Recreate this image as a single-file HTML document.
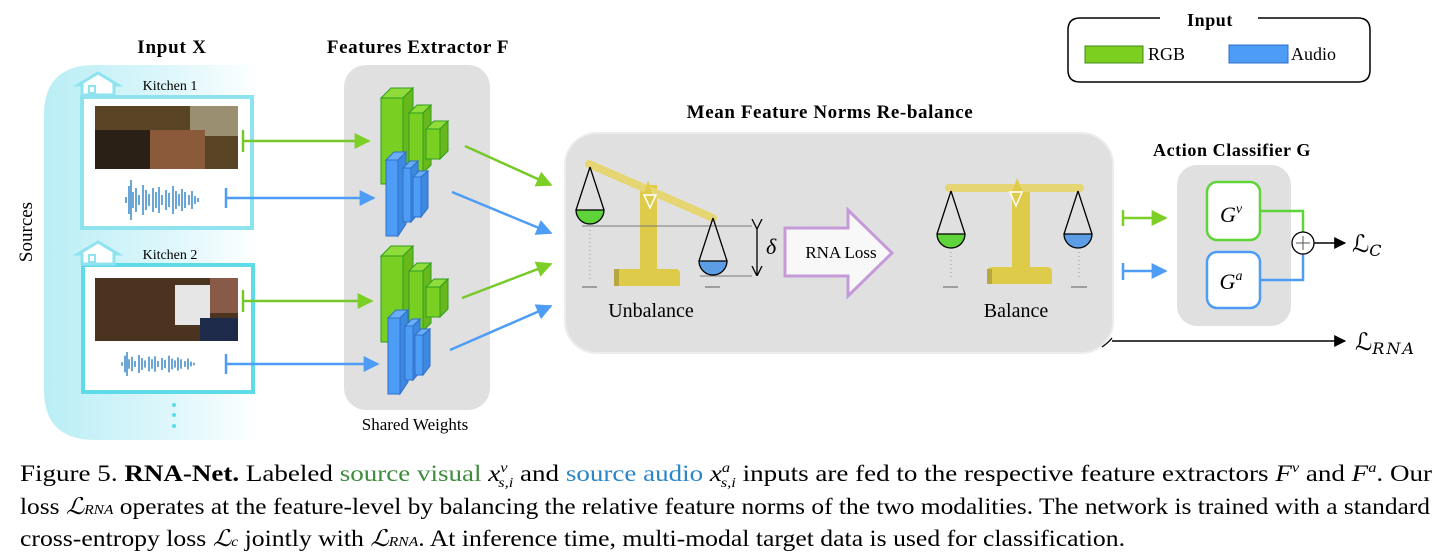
<!DOCTYPE html>
<html><head><meta charset="utf-8"><style>
html,body{margin:0;padding:0;background:#fff;}
svg{display:block;font-family:"Liberation Serif",serif;}
</style></head><body>
<svg width="1437" height="556" viewBox="0 0 1437 556" xmlns="http://www.w3.org/2000/svg">
<defs>
<linearGradient id="cy" x1="0" x2="1" y1="0" y2="0">
<stop offset="0" stop-color="#b9eef5"/><stop offset="0.6" stop-color="#dff7fb"/><stop offset="1" stop-color="#ffffff"/></linearGradient>
<marker id="agB" viewBox="0 0 10 10" markerWidth="18" markerHeight="16" refX="9" refY="5" orient="auto" markerUnits="userSpaceOnUse"><path d="M0,0 L10,5 L0,10z" fill="#7ccf25"/></marker>
<marker id="abB" viewBox="0 0 10 10" markerWidth="18" markerHeight="16" refX="9" refY="5" orient="auto" markerUnits="userSpaceOnUse"><path d="M0,0 L10,5 L0,10z" fill="#4d9df7"/></marker>
<marker id="ak" viewBox="0 0 10 10" markerWidth="14" markerHeight="12" refX="9" refY="5" orient="auto" markerUnits="userSpaceOnUse"><path d="M0,0 L10,5 L0,10z" fill="#000"/></marker>
<marker id="ad" viewBox="0 0 10 10" markerWidth="10" markerHeight="12" refX="9" refY="5" orient="auto" markerUnits="userSpaceOnUse"><path d="M0,0 L10,5 L0,10" fill="none" stroke="#000" stroke-width="1.3"/></marker>
<g id="netG">
<polygon points="0,0 10,-10 32,-10 22,0" fill="#8fdc3a" stroke="#2e9d1e" stroke-width="1"/>
<rect x="0" y="0" width="22" height="86" fill="#79cf22" stroke="#2e9d1e"/>
<polygon points="22,0 32,-10 32,76 22,86" fill="#68b81c" stroke="#2e9d1e"/>
<rect x="28" y="15" width="14" height="60" fill="#79cf22" stroke="#2e9d1e"/>
<polygon points="28,15 36,7 50,7 42,15" fill="#8fdc3a" stroke="#2e9d1e"/>
<polygon points="42,15 50,7 50,67 42,75" fill="#68b81c" stroke="#2e9d1e"/>
<rect x="45" y="31" width="14" height="30" fill="#79cf22" stroke="#2e9d1e"/>
<polygon points="45,31 53,23 67,23 59,31" fill="#8fdc3a" stroke="#2e9d1e"/>
<polygon points="59,31 67,23 67,53 59,61" fill="#68b81c" stroke="#2e9d1e"/>
</g>
<g id="netB">
<rect x="0" y="10" width="12" height="76" fill="#4d9df7" stroke="#2f6fc8"/>
<polygon points="0,10 8,2 20,2 12,10" fill="#6aaef9" stroke="#2f6fc8"/>
<polygon points="12,10 20,2 20,74 12,86" fill="#3e89e0" stroke="#2f6fc8"/>
<rect x="17" y="18" width="8" height="54" fill="#4d9df7" stroke="#2f6fc8"/>
<polygon points="17,18 24,11 32,11 25,18" fill="#6aaef9" stroke="#2f6fc8"/>
<polygon points="25,18 32,11 32,64 25,72" fill="#3e89e0" stroke="#2f6fc8"/>
<rect x="27" y="27" width="8" height="40" fill="#4d9df7" stroke="#2f6fc8"/>
<polygon points="27,27 33,21 42,21 35,27" fill="#6aaef9" stroke="#2f6fc8"/>
<polygon points="35,27 42,21 42,58 35,67" fill="#3e89e0" stroke="#2f6fc8"/>
</g>
<g id="house"><polygon points="0,12 20,0 40,12 36,12 36,22 4,22 4,12" fill="#fff" stroke="#8fe3ee" stroke-width="3"/><rect x="11" y="13" width="6" height="7" fill="none" stroke="#8fe3ee" stroke-width="2"/></g>
<g id="wave" stroke="#2a7fc4" stroke-width="1.4">
<path d="M4,-3v6 M7,-14v28 M9,-20v40 M11,-8v16 M14,-12v24 M17,-5v10 M21,-15v30 M24,-10v20 M27,-6v12 M31,-12v24 M34,-8v16 M37,-13v26 M40,-5v10 M44,-10v20 M47,-7v14 M51,-14v28 M54,-9v18 M57,-6v12 M60,-11v22 M63,-8v16 M67,-5v10 M70,-9v18 M73,-4v8 M76,-2v4"/>
</g>
</defs>

<path d="M95,65 H260 V440 H95 Q44,440 44,390 V115 Q44,65 95,65z" fill="url(#cy)"/>
<text x="32" y="232" font-size="19" transform="rotate(-90 32 232)" text-anchor="middle">Sources</text>
<text x="172" y="53" font-size="19" font-weight="bold" text-anchor="middle" letter-spacing="0.8">Input X</text>

<rect x="82" y="97" width="170" height="131" fill="#fff" stroke="#8fe3ee" stroke-width="4"/>
<use href="#house" x="78" y="73"/>
<text x="170" y="90" font-size="14" text-anchor="middle">Kitchen 1</text>
<rect x="95" y="106" width="143" height="63" fill="#5a4426"/>
<rect x="95" y="130" width="60" height="39" fill="#2a2016"/>
<rect x="190" y="106" width="48" height="30" fill="#9a8f70"/>
<rect x="150" y="130" width="55" height="39" fill="#8a5a3a"/>
<use href="#wave" x="122" y="200"/>
<line x1="226" y1="188" x2="226" y2="208" stroke="#4d9df7" stroke-width="2.5"/>
<line x1="243" y1="130" x2="243" y2="152" stroke="#76c928" stroke-width="2.5"/>

<rect x="83" y="265" width="170" height="127" fill="#fff" stroke="#5ddbe8" stroke-width="4"/>
<use href="#house" x="78" y="242"/>
<text x="170" y="259" font-size="14" text-anchor="middle">Kitchen 2</text>
<rect x="95" y="278" width="143" height="63" fill="#4a3420"/>
<rect x="175" y="285" width="35" height="40" fill="#e6e6e6"/>
<rect x="210" y="278" width="28" height="35" fill="#8a5a48"/>
<rect x="200" y="318" width="38" height="23" fill="#1d2a4a"/>
<g transform="translate(118,364) scale(1,0.6)"><use href="#wave"/></g>
<line x1="226" y1="354" x2="226" y2="374" stroke="#4d9df7" stroke-width="2.5"/>
<line x1="243" y1="290" x2="243" y2="312" stroke="#76c928" stroke-width="2.5"/>
<circle cx="174" cy="405" r="2" fill="#5ddbe8"/><circle cx="174" cy="415" r="2" fill="#5ddbe8"/><circle cx="174" cy="426" r="2" fill="#5ddbe8"/>

<text x="418" y="53" font-size="19" font-weight="bold" text-anchor="middle" letter-spacing="0.6">Features Extractor F</text>
<rect x="344" y="65" width="146" height="345" rx="22" fill="#e0e0e0"/>
<text x="415" y="430" font-size="17" text-anchor="middle">Shared Weights</text>
<use href="#netG" x="381" y="98"/>
<use href="#netB" x="386" y="150"/>
<use href="#netG" x="381" y="256"/>
<use href="#netB" x="388" y="308"/>

<line x1="243" y1="141" x2="369" y2="141" stroke="#76c928" stroke-width="2.5" marker-end="url(#agB)"/>
<line x1="226" y1="198" x2="374" y2="198" stroke="#4d9df7" stroke-width="2.5" marker-end="url(#abB)"/>
<line x1="243" y1="301" x2="372" y2="301" stroke="#76c928" stroke-width="2.5" marker-end="url(#agB)"/>
<line x1="226" y1="364" x2="378" y2="364" stroke="#4d9df7" stroke-width="2.5" marker-end="url(#abB)"/>
<line x1="465" y1="146" x2="551" y2="185" stroke="#76c928" stroke-width="2.5" marker-end="url(#agB)"/>
<line x1="452" y1="192" x2="551" y2="233" stroke="#4d9df7" stroke-width="2.5" marker-end="url(#abB)"/>
<line x1="462" y1="298" x2="551" y2="264" stroke="#76c928" stroke-width="2.5" marker-end="url(#agB)"/>
<line x1="450" y1="350" x2="551" y2="306" stroke="#4d9df7" stroke-width="2.5" marker-end="url(#abB)"/>

<text x="830" y="118" font-size="19" font-weight="bold" text-anchor="middle" letter-spacing="0.6">Mean Feature Norms Re-balance</text>
<rect x="565" y="133" width="548" height="220" rx="32" fill="#e0e0e0" stroke="#ececec" stroke-width="2"/>

<rect x="640" y="185" width="17" height="88" fill="#dfcb4a"/>
<path d="M614,286 V274 Q614,269 620,269 H676 Q680,269 680,274 V286z" fill="#dfcb4a"/>
<rect x="614" y="269" width="5" height="17" fill="#b8a640"/>
<line x1="589" y1="164" x2="713" y2="218" stroke="#e6d673" stroke-width="8" stroke-linecap="round"/>
<polygon points="648,180 643,197 653,197" fill="#dfcb4a"/>
<polygon points="644,195 656,195 650,208" fill="none" stroke="#fff" stroke-width="1.5"/>
<line x1="582" y1="226" x2="752" y2="226" stroke="#777" stroke-width="1"/>
<line x1="700" y1="276" x2="752" y2="276" stroke="#777" stroke-width="1"/>
<line x1="757" y1="228" x2="757" y2="275" stroke="#000" stroke-width="1.3" marker-end="url(#ad)" marker-start="url(#ad)"/>
<text x="766" y="254" font-size="22" font-style="italic">δ</text>
<g stroke="#000" stroke-width="1.3">
<path d="M590,167 L576,210 M590,167 L604,210" fill="none"/>
<path d="M576,210 A14,14 0 0 0 604,210z" fill="#5fd33a"/>
<path d="M713,218 L699,261 M713,218 L727,261" fill="none"/>
<path d="M699,261 A14,14 0 0 0 727,261z" fill="#5c9ee6"/>
</g>
<line x1="590" y1="230" x2="590" y2="280" stroke="#999" stroke-dasharray="1,3"/>
<line x1="582" y1="287" x2="597" y2="287" stroke="#888" stroke-width="1.5"/>
<line x1="705" y1="287" x2="720" y2="287" stroke="#888" stroke-width="1.5"/>
<text x="651" y="317" font-size="20" text-anchor="middle">Unbalance</text>

<polygon points="785,228 848,228 848,210 892,253 848,296 848,276 785,276" fill="#f8f8f8" stroke="#c49bd8" stroke-width="3"/>
<text x="841" y="258" font-size="17" text-anchor="middle">RNA Loss</text>

<rect x="1012" y="190" width="18" height="80" fill="#dfcb4a"/>
<path d="M987,284 V272 Q987,267 993,267 H1047 Q1052,267 1052,272 V284z" fill="#dfcb4a"/>
<rect x="987" y="269" width="5" height="15" fill="#b8a640"/>
<line x1="949" y1="188" x2="1080" y2="188" stroke="#e6d673" stroke-width="8" stroke-linecap="round"/>
<polygon points="1017,178 1012,192 1023,192" fill="#dfcb4a"/>
<polygon points="1010,192 1022,192 1016,206" fill="none" stroke="#fff" stroke-width="1.5"/>
<g stroke="#000" stroke-width="1.3">
<path d="M951,191 L937,234 M951,191 L965,234" fill="none"/>
<path d="M937,234 A14,14 0 0 0 965,234z" fill="#5fd33a"/>
<path d="M1078,191 L1064,234 M1078,191 L1092,234" fill="none"/>
<path d="M1064,234 A14,14 0 0 0 1092,234z" fill="#5c9ee6"/>
</g>
<line x1="951" y1="252" x2="951" y2="280" stroke="#999" stroke-dasharray="1,3"/>
<line x1="1079" y1="252" x2="1079" y2="280" stroke="#999" stroke-dasharray="1,3"/>
<line x1="943" y1="287" x2="958" y2="287" stroke="#888" stroke-width="1.5"/>
<line x1="1071" y1="287" x2="1087" y2="287" stroke="#888" stroke-width="1.5"/>
<text x="1016" y="317" font-size="20" text-anchor="middle">Balance</text>

<path d="M1160,18 H1080 Q1068,18 1068,30 V70 Q1068,82 1080,82 H1358 Q1370,82 1370,70 V30 Q1370,18 1358,18 H1258" fill="none" stroke="#000" stroke-width="1.5"/>
<text x="1210" y="26" font-size="18" font-weight="bold" text-anchor="middle" letter-spacing="0.6">Input</text>
<rect x="1085" y="46" width="58" height="17" fill="#7ccf1e" stroke="#3f8a1a"/>
<text x="1148" y="60" font-size="18">RGB</text>
<rect x="1229" y="45" width="59" height="18" fill="#4d9df7" stroke="#2f6fc8"/>
<text x="1291" y="60" font-size="18">Audio</text>

<text x="1232" y="156" font-size="18" font-weight="bold" text-anchor="middle" letter-spacing="0.6">Action Classifier G</text>
<rect x="1177" y="165" width="114" height="161" rx="20" fill="#e0e0e0"/>
<line x1="1123" y1="210" x2="1123" y2="226" stroke="#7ccf25" stroke-width="2.5"/>
<line x1="1123" y1="218" x2="1166" y2="218" stroke="#7ccf25" stroke-width="2.5" marker-end="url(#agB)"/>
<line x1="1123" y1="263" x2="1123" y2="280" stroke="#4d9df7" stroke-width="2.5"/>
<line x1="1123" y1="271" x2="1166" y2="271" stroke="#4d9df7" stroke-width="2.5" marker-end="url(#abB)"/>
<rect x="1207" y="182" width="53" height="58" rx="10" fill="#fff" stroke="#5fd33a" stroke-width="2.5"/>
<rect x="1207" y="252" width="53" height="56" rx="10" fill="#fff" stroke="#4d9df7" stroke-width="2.5"/>
<text x="1231" y="222" font-size="22" font-style="italic" text-anchor="middle">G<tspan font-size="14" dy="-9">v</tspan></text>
<text x="1231" y="289" font-size="22" font-style="italic" text-anchor="middle">G<tspan font-size="14" dy="-9">a</tspan></text>
<polyline points="1260,211 1303,211 1303,232" fill="none" stroke="#5fd33a" stroke-width="2.5"/>
<polyline points="1260,280 1303,280 1303,254" fill="none" stroke="#4d9df7" stroke-width="2.5"/>
<circle cx="1303" cy="243" r="11" fill="#fff" stroke="#000" stroke-width="1.3"/>
<path d="M1296,243 H1310 M1303,236 V250" stroke="#555" stroke-width="1"/>
<line x1="1314" y1="243" x2="1345" y2="243" stroke="#000" stroke-width="1.5" marker-end="url(#ak)"/>
<text x="1352" y="252" font-size="24" font-family="'DejaVu Serif',serif">ℒ<tspan font-size="16" font-style="italic" dy="4">C</tspan></text>
<path d="M1102,347 Q1108,343 1112,338" fill="none" stroke="#000" stroke-width="1.3"/>
<line x1="1112" y1="341" x2="1345" y2="341" stroke="#000" stroke-width="1.5" marker-end="url(#ak)"/>
<text x="1355" y="350" font-size="24" font-family="'DejaVu Serif',serif">ℒ<tspan font-size="16" font-style="italic" dy="4" letter-spacing="2">RNA</tspan></text>

<g font-size="23">
<text x="20" y="481" textLength="1412" lengthAdjust="spacingAndGlyphs">Figure 5. <tspan font-weight="bold">RNA-Net.</tspan> Labeled <tspan fill="#3c8c3c">source visual</tspan> <tspan font-style="italic">x</tspan><tspan font-size="14" font-style="italic" dy="-9">v</tspan><tspan font-size="14" font-style="italic" dx="-8" dy="15">s,i</tspan><tspan dy="-6"> and </tspan><tspan fill="#2a86c8">source audio</tspan> <tspan font-style="italic">x</tspan><tspan font-size="14" font-style="italic" dy="-9">a</tspan><tspan font-size="14" font-style="italic" dx="-8" dy="15">s,i</tspan><tspan dy="-6"> inputs are fed to the respective feature extractors </tspan><tspan font-style="italic">F</tspan><tspan font-size="14" font-style="italic" dy="-9">v</tspan><tspan dy="9"> and </tspan><tspan font-style="italic">F</tspan><tspan font-size="14" font-style="italic" dy="-9">a</tspan><tspan dy="9">. Our</tspan></text>
<text x="20" y="514" textLength="1410" lengthAdjust="spacingAndGlyphs">loss <tspan font-style="italic">ℒ</tspan><tspan font-size="14" font-style="italic">RNA</tspan> operates at the feature-level by balancing the relative feature norms of the two modalities. The network is trained with a standard</text>
<text x="20" y="546" textLength="1105" lengthAdjust="spacingAndGlyphs">cross-entropy loss <tspan font-style="italic">ℒ</tspan><tspan font-size="14" font-style="italic">c</tspan> jointly with <tspan font-style="italic">ℒ</tspan><tspan font-size="14" font-style="italic">RNA</tspan>. At inference time, multi-modal target data is used for classification.</text>
</g>
</svg>
</body></html>
